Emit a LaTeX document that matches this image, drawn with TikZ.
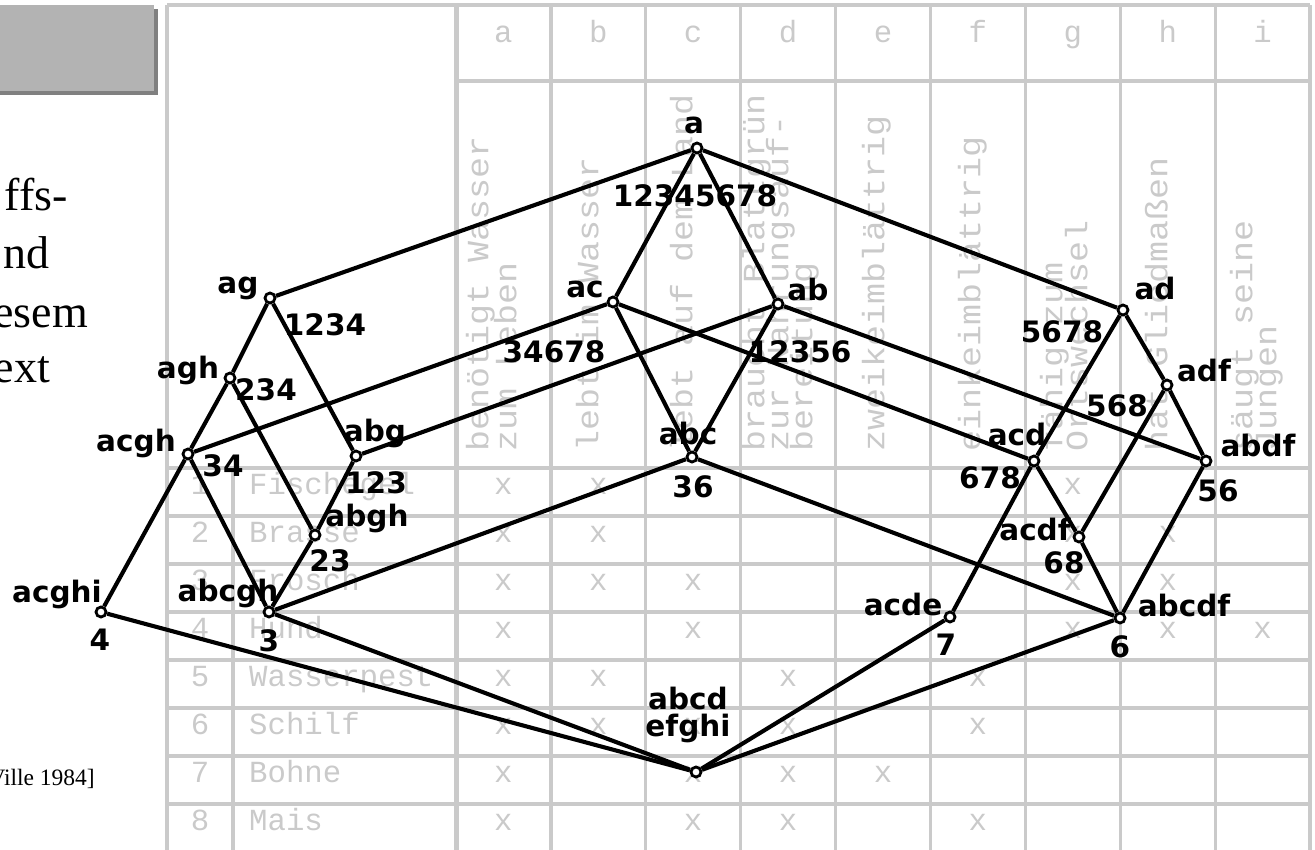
\documentclass[tikz,border=0pt]{standalone}
\usepackage{fontspec}
\setmainfont{Liberation Serif}
\newfontfamily\tabfont{Liberation Mono}
\newfontfamily\hdrfont{Liberation Mono}[FakeStretch=1.13]
\newfontfamily\latfont{DejaVu Sans}
\definecolor{tabgray}{RGB}{202,202,202}
\definecolor{boxgray}{RGB}{179,179,179}
\definecolor{shadowgray}{RGB}{128,128,128}
\tikzset{
  tabline/.style={draw=tabgray, line width=3.2pt},
  tabtxt/.style={text=tabgray, font=\tabfont\fontsize{30.7}{34}\selectfont, inner sep=0pt},
  hdr/.style={text=tabgray, font=\hdrfont\fontsize{31}{34}\selectfont, inner sep=0pt,
              rotate=90, anchor=mid west},
  xmark/.style={tabtxt, anchor=mid},
  cpt/.style={circle, draw=black, fill=white, line width=2.8pt, minimum size=10pt, inner sep=0pt},
  latline/.style={draw=black, line width=4.1pt},
  lbl/.style={font=\latfont\bfseries\fontsize{29.5}{27}\selectfont, inner sep=0pt, align=center},
  serif/.style={font=\fontsize{#1}{#1}\selectfont, inner sep=0pt, anchor=base east}
}
\begin{document}
\begin{tikzpicture}[x=1pt,y=-1pt]
\useasboundingbox (0,0) rectangle (1315,849);

% title box with drop shadow
\fill[shadowgray] (0,9) rectangle (158,95);
\fill[boxgray] (0,5) rectangle (154,91);

% running text at the left margin
\node[serif=46] (w1) at (68,210) {ffs-};
\node[serif=46] (w2) at (50,268) {nd};
\node[serif=46] (w3) at (88,327) {esem};
\node[serif=46] (w4) at (50,382) {ext};
\node[serif=23.5] (src) at (95,785) {Ville 1984]};

% ---------- cross table ----------
\draw[tabline] (167,5) -- (1310,5);
\draw[tabline] (167,5) -- (167,852);
\draw[tabline] (1310,5) -- (1310,852);
\draw[tabline] (456,81) -- (1310,81);
\draw[tabline, line width=5pt] (456,5) -- (456,852);
\foreach \k in {1,...,8}
  \draw[tabline] ({456+94.9*\k},5) -- ({456+94.9*\k},852);
\foreach \r in {0,...,7}
  \draw[tabline] (167,{468+48*\r}) -- (1310,{468+48*\r});
\draw[tabline] (233,468) -- (233,852);

% attribute letters
\foreach \l [count=\i from 0] in {a,b,c,d,e,f,g,h,i}
  \node[xmark] (col\i) at ({503.4+94.9*\i},40) {\l};

% attribute names, rotated
\node[hdr] (ha1) at (486,452) {benötigt Wasser};
\node[hdr] (ha2) at (514,452) {zum Leben};
\node[hdr] (hb)  at (596,452) {lebt im Wasser};
\node[hdr] (hc)  at (690,452) {lebt auf dem Land};
\node[hdr] (hd1) at (762,452) {braucht Blattgrün};
\node[hdr] (hd2) at (786,452) {zur Nahrungsauf-};
\node[hdr] (hd3) at (810,452) {bereitung};
\node[hdr] (he)  at (882,452) {zweikeimblättrig};
\node[hdr] (hf)  at (978,452) {einkeimblättrig};
\node[hdr] (hg1) at (1060,452) {fähig zum};
\node[hdr] (hg2) at (1085,452) {Ortswechsel};
\node[hdr] (hh)  at (1165,452) {hat Gliedmaßen};
\node[hdr] (hi1) at (1250,452) {säugt seine};
\node[hdr] (hi2) at (1274,452) {Jungen};

% objects
\foreach \n/\name [count=\r from 0] in
  {1/Fischegel,2/Brasse,3/Frosch,4/Hund,5/Wasserpest,6/Schilf,7/Bohne,8/Mais}{
  \node[xmark] (num\n) at (200,{492+48*\r}) {\n};
  \node[tabtxt, anchor=mid west] (obj\n) at (249,{492+48*\r}) {\name};
}

% crosses: row/column (columns a=0 ... i=8)
\foreach \r/\c in {0/0,0/1,0/6,
                   1/0,1/1,1/6,1/7,
                   2/0,2/1,2/2,2/6,2/7,
                   3/0,3/2,3/6,3/7,3/8,
                   4/0,4/1,4/3,4/5,
                   5/0,5/1,5/2,5/3,5/5,
                   6/0,6/2,6/3,6/4,
                   7/0,7/2,7/3,7/5}
  \node[xmark] (x\r\c) at ({503.4+94.9*\c},{492+48*\r}) {x};

% ---------- concept lattice ----------
\node[cpt] (a)     at (697,148) {};
\node[cpt] (ag)    at (270,298) {};
\node[cpt] (agh)   at (230,378) {};
\node[cpt] (acgh)  at (188,454) {};
\node[cpt] (acghi) at (101,612) {};
\node[cpt] (abg)   at (356,456) {};
\node[cpt] (abgh)  at (315,535) {};
\node[cpt] (abcgh) at (269,612) {};
\node[cpt] (ac)    at (613,302) {};
\node[cpt] (ab)    at (778,304) {};
\node[cpt] (abc)   at (692,457) {};
\node[cpt] (ad)    at (1123,310) {};
\node[cpt] (adf)   at (1167,385) {};
\node[cpt] (acd)   at (1034,461) {};
\node[cpt] (abdf)  at (1206,461) {};
\node[cpt] (acdf)  at (1079,537) {};
\node[cpt] (acde)  at (950,617) {};
\node[cpt] (abcdf) at (1120,618) {};
\node[cpt] (bot)   at (696,772) {};

\foreach \u/\v in {a/ag,a/ac,a/ab,a/ad,
                   ag/agh,ag/abg,agh/acgh,agh/abgh,
                   acgh/acghi,acgh/abcgh,abg/abgh,abgh/abcgh,
                   ac/acgh,ac/abc,ac/acd,
                   ab/abg,ab/abc,ab/abdf,
                   ad/acd,ad/adf,adf/abdf,adf/acdf,
                   acd/acdf,acd/acde,abdf/abcdf,acdf/abcdf,
                   abc/abcgh,abc/abcdf,
                   acghi/bot,abcgh/bot,acde/bot,abcdf/bot}
  \draw[latline] (\u) -- (\v);

% intents
\node[lbl] (Ia)     at (694,125)  {a};
\node[lbl] (Iag)    at (238,288)  {ag};
\node[lbl] (Iagh)   at (188,370)  {agh};
\node[lbl] (Iacgh)  at (136,443)  {acgh};
\node[lbl] (Iacghi) at (57,594)   {acghi};
\node[lbl] (Iabg)   at (375,433)  {abg};
\node[lbl] (Iabgh)  at (367,518)  {abgh};
\node[lbl] (Iabcgh) at (228,593)  {abcgh};
\node[lbl] (Iac)    at (585,289)  {ac};
\node[lbl] (Iab)    at (808,289)  {ab};
\node[lbl] (Iabc)   at (688,433)  {abc};
\node[lbl] (Iad)    at (1155,288) {ad};
\node[lbl] (Iadf)   at (1204,370) {adf};
\node[lbl] (Iacd)   at (1017,434) {acd};
\node[lbl] (Iabdf)  at (1258,445) {abdf};
\node[lbl] (Iacdf)  at (1035,529) {acdf};
\node[lbl] (Iacde)  at (903,604)  {acde};
\node[lbl] (Iabcdf) at (1184,605) {abcdf};
\node[lbl] (Ibot)   at (688,715)  {abcd\\efghi};

% extents
\node[lbl] (Ea)     at (695,196)  {12345678};
\node[lbl] (Eag)    at (325,325)  {1234};
\node[lbl] (Eagh)   at (266,390)  {234};
\node[lbl] (Eacgh)  at (223,466)  {34};
\node[lbl] (Eacghi) at (100,640)  {4};
\node[lbl] (Eabg)   at (376,483)  {123};
\node[lbl] (Eabgh)  at (330,561)  {23};
\node[lbl] (Eabcgh) at (269,641)  {3};
\node[lbl] (Eac)    at (554,352)  {34678};
\node[lbl] (Eab)    at (800,352)  {12356};
\node[lbl] (Eabc)   at (693,487)  {36};
\node[lbl] (Ead)    at (1062,332) {5678};
\node[lbl] (Eadf)   at (1117,406) {568};
\node[lbl] (Eacd)   at (990,478)  {678};
\node[lbl] (Eabdf)  at (1218,491) {56};
\node[lbl] (Eacdf)  at (1064,563) {68};
\node[lbl] (Eacde)  at (946,645)  {7};
\node[lbl] (Eabcdf) at (1120,647) {6};
\end{tikzpicture}
\end{document}
